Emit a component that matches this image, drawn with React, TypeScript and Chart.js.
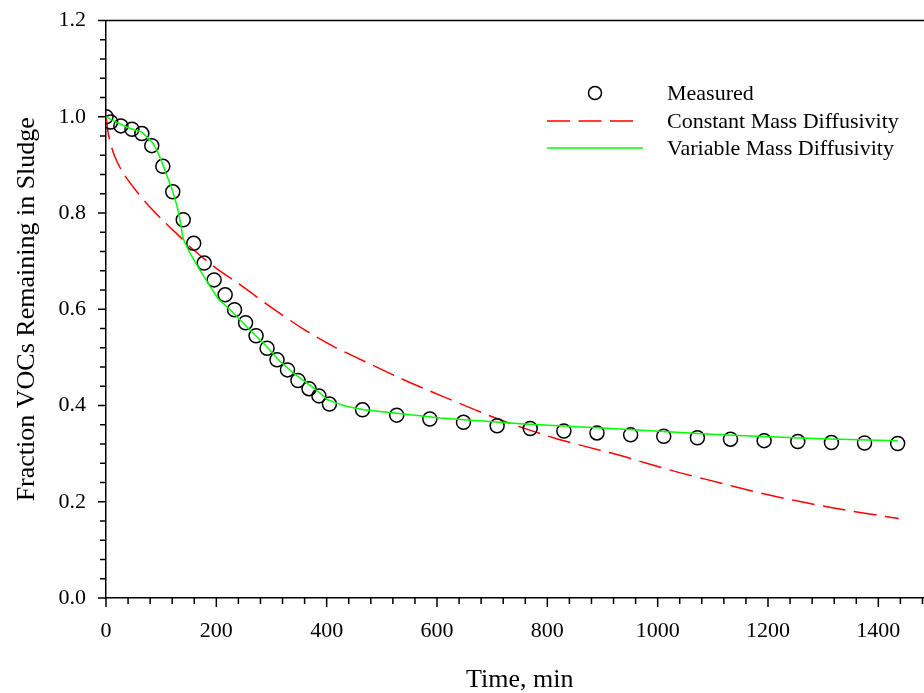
import React, { useEffect, useRef } from 'react'
import { Chart, registerables } from 'chart.js'

Chart.register(...registerables)

const measuredTime = [0, 8.5, 27, 47, 65, 83, 103, 121, 140, 159, 178, 196, 216, 233, 253, 272, 292, 310, 329, 348, 368, 386, 405, 465, 527, 587, 648, 709, 769, 830, 890, 951, 1011, 1072, 1132, 1193, 1254, 1315, 1375, 1435]
const measuredFrac = [1.0, 0.989, 0.981, 0.974, 0.965, 0.94, 0.897, 0.844, 0.786, 0.737, 0.696, 0.661, 0.63, 0.599, 0.572, 0.545, 0.519, 0.495, 0.474, 0.452, 0.435, 0.42, 0.403, 0.391, 0.38, 0.372, 0.365, 0.358, 0.352, 0.347, 0.343, 0.339, 0.336, 0.333, 0.33, 0.327, 0.325, 0.323, 0.322, 0.321]

const constTime = [0, 5, 15, 30, 50, 75, 100, 130, 160, 200, 243, 297, 355, 412, 470, 527, 585, 642, 699, 757, 814, 872, 926, 983, 1041, 1086, 1198, 1319, 1437]
const constFrac = [1.0, 0.96, 0.92, 0.885, 0.853, 0.818, 0.788, 0.755, 0.722, 0.685, 0.651, 0.606, 0.561, 0.523, 0.491, 0.46, 0.431, 0.404, 0.377, 0.353, 0.332, 0.314, 0.298, 0.279, 0.26, 0.247, 0.215, 0.187, 0.165]

const varTime = [0, 16, 43, 65, 83, 92, 101, 111, 121, 129, 134, 139, 142, 152, 170, 189, 204, 225, 261, 285, 316, 340, 364, 388, 400, 418, 437, 467, 527, 606, 751, 932, 1113, 1295, 1435]
const varFrac = [1.0, 0.99, 0.976, 0.968, 0.948, 0.931, 0.907, 0.876, 0.845, 0.813, 0.786, 0.751, 0.741, 0.717, 0.682, 0.647, 0.621, 0.599, 0.557, 0.53, 0.491, 0.467, 0.447, 0.426, 0.413, 0.405, 0.398, 0.391, 0.384, 0.374, 0.362, 0.351, 0.339, 0.331, 0.327]

const seriesNames = ['Measured', 'Constant Mass Diffusivity', 'Variable Mass Diffusivity']

const serif = '"Liberation Serif", "Times New Roman", serif'

const pts = (xs: number[], ys: number[]) => xs.map((x, i) => ({ x, y: ys[i] }))

const axisDecor = {
  id: 'axisDecor',
  afterDraw(chart: any) {
    const { ctx, chartArea } = chart
    const xs = chart.scales.x
    const ys = chart.scales.y
    ctx.save()
    ctx.strokeStyle = '#000'
    ctx.lineWidth = 1.5
    ctx.beginPath()
    // top frame line
    ctx.moveTo(chartArea.left, chartArea.top)
    ctx.lineTo(chartArea.right, chartArea.top)
    for (let v = 0; v <= 1500; v += 40) {
      const px = xs.getPixelForValue(v)
      const len = v % 200 === 0 ? 9 : 6
      ctx.moveTo(px, chartArea.bottom)
      ctx.lineTo(px, chartArea.bottom + len)
    }
    for (let i = 0; i <= 30; i++) {
      const py = ys.getPixelForValue(i * 0.04)
      const len = i % 5 === 0 ? 8 : 6
      ctx.moveTo(chartArea.left - len, py)
      ctx.lineTo(chartArea.left, py)
    }
    ctx.stroke()

    // legend
    const byName = (n: string) => chart.data.datasets.find((d: any) => d.label === n)
    const red = byName(seriesNames[1])
    const green = byName(seriesNames[2])
    ctx.font = `22px ${serif}`
    ctx.fillStyle = '#000'
    ctx.textBaseline = 'middle'
    ctx.textAlign = 'left'
    const rows = [93, 121, 148]
    ctx.beginPath()
    ctx.lineWidth = 1.5
    ctx.arc(595, rows[0], 6.5, 0, Math.PI * 2)
    ctx.stroke()
    ctx.fillText(seriesNames[0], 667, rows[0] + 1)

    ctx.beginPath()
    ctx.strokeStyle = red.borderColor
    ctx.setLineDash(red.borderDash || [])
    ctx.moveTo(547, rows[1])
    ctx.lineTo(634, rows[1])
    ctx.stroke()
    ctx.setLineDash([])
    ctx.fillText(seriesNames[1], 667, rows[1] + 1)

    ctx.beginPath()
    ctx.strokeStyle = green.borderColor
    ctx.moveTo(547, rows[2])
    ctx.lineTo(643, rows[2])
    ctx.stroke()
    ctx.fillText(seriesNames[2], 667, rows[2] + 1)
    ctx.restore()
  },
}

export default function App() {
  const canvasRef = useRef<HTMLCanvasElement>(null)
  const chartRef = useRef<Chart | null>(null)

  useEffect(() => {
    if (!canvasRef.current) return
    const ctx = canvasRef.current.getContext('2d')
    if (!ctx) return

    chartRef.current = new Chart(ctx, {
      type: 'scatter',
      data: {
        datasets: [
          {
            label: seriesNames[1],
            data: pts(constTime, constFrac),
            showLine: true,
            borderColor: '#ff0000',
            borderWidth: 1.5,
            borderDash: [23, 8.5],
            pointRadius: 0,
            tension: 0.3,
            order: 2,
          },
          {
            label: seriesNames[0],
            data: pts(measuredTime, measuredFrac),
            showLine: false,
            pointStyle: 'circle',
            pointRadius: 7,
            pointBorderWidth: 1.5,
            borderColor: '#000',
            backgroundColor: 'rgba(0,0,0,0)',
            order: 1,
          },
          {
            label: seriesNames[2],
            data: pts(varTime, varFrac),
            showLine: true,
            borderColor: '#00ff00',
            borderWidth: 1.5,
            pointRadius: 0,
            tension: 0,
            order: 0,
          },
        ] as any,
      },
      options: {
        animation: false,
        responsive: true,
        maintainAspectRatio: false,
        layout: { padding: { top: 20.5, right: 0, left: 0, bottom: 0 } },
        plugins: { legend: { display: false }, tooltip: { enabled: false } },
        scales: {
          x: {
            type: 'linear',
            min: 0,
            max: 1500,
            afterFit: (s: any) => {
              s.height = 95
              s.paddingLeft = 0
              s.paddingRight = 0
            },
            border: { display: true, color: '#000', width: 1.5 },
            grid: { drawOnChartArea: false, drawTicks: false },
            ticks: {
              stepSize: 200,
              includeBounds: false,
              color: '#000',
              font: { size: 22, family: serif },
              padding: 20,
              maxRotation: 0,
              callback: (v: any) => (Number(v) > 1400 ? '' : String(v)),
            },
            title: {
              display: true,
              text: 'Time, min',
              color: '#000',
              font: { size: 26, family: serif },
              padding: { top: 0, bottom: -3 },
            },
          },
          y: {
            type: 'linear',
            min: 0,
            max: 1.2,
            afterFit: (s: any) => {
              s.width = 106
              s.paddingTop = 0
              s.paddingBottom = 0
            },
            border: { display: true, color: '#000', width: 1.5 },
            grid: { drawOnChartArea: false, drawTicks: false },
            ticks: {
              stepSize: 0.2,
              color: '#000',
              font: { size: 22, family: serif },
              padding: 20,
              callback: (v: any) => Number(v).toFixed(1),
            },
            title: {
              display: true,
              text: 'Fraction VOCs Remaining in Sludge',
              color: '#000',
              font: { size: 26, family: serif },
              padding: { top: 12, bottom: 0 },
            },
          },
        },
      },
      plugins: [axisDecor],
    })

    return () => {
      if (chartRef.current) {
        chartRef.current.destroy()
        chartRef.current = null
      }
    }
  }, [])

  // the axis runs off the right edge in the original, so the canvas is a bit wider and clipped
  return (
    <div style={{ position: 'fixed', left: 0, top: 0, width: 924, height: 693, overflow: 'hidden', background: '#fff' }}>
      <div style={{ position: 'relative', width: 942, height: 693 }}>
        <canvas ref={canvasRef} />
      </div>
    </div>
  )
}
